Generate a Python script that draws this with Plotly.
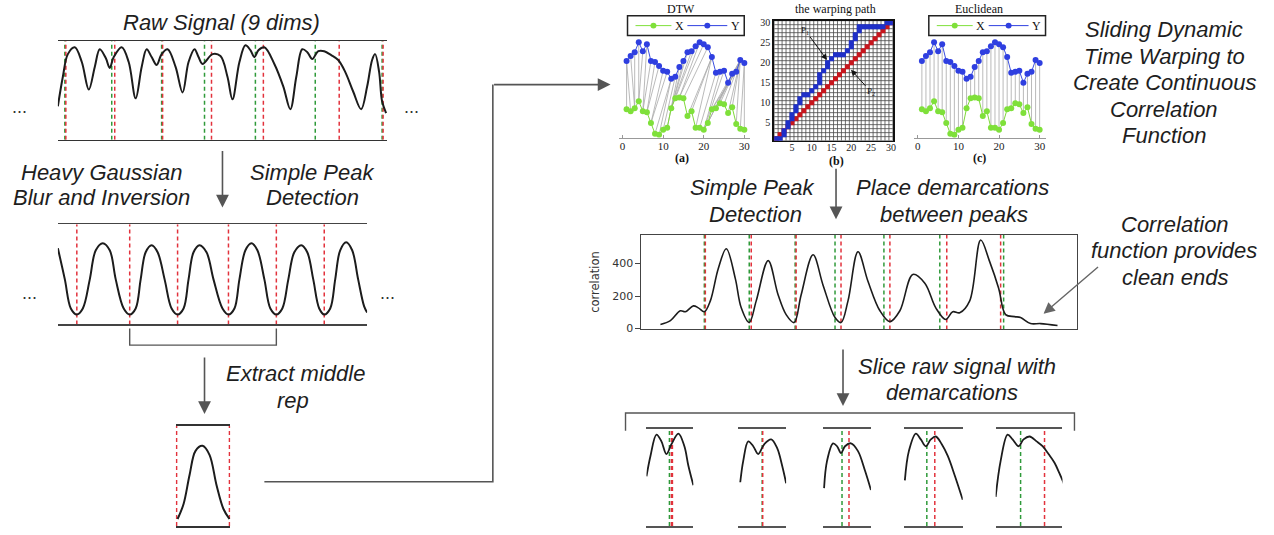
import plotly.graph_objects as go

W, H = 1274, 535


def fx(px):
    return px / W


def fy(py):
    return 1 - py / H


# ---------------- data ----------------
raw_t = [0, 5, 10, 17, 24, 31, 37, 42, 48, 52, 56, 64, 71, 78, 84, 89, 94, 99, 104, 110,
         118, 125, 131, 137, 141, 145, 155, 163, 170, 175, 182, 188, 193, 197, 201, 207, 217, 226, 233, 239,
         245, 250, 255, 261, 267, 274, 281, 288, 296, 304, 310, 315, 318, 322, 325, 329]
raw_amp = [0.34, 0.64, 0.87, 0.94, 0.79, 0.51, 0.74, 0.92, 0.83, 0.73, 0.84, 0.94, 0.79, 0.42, 0.74, 0.92, 0.84, 0.76, 0.87, 0.92,
           0.74, 0.48, 0.79, 0.92, 0.84, 0.77, 0.87, 0.85, 0.64, 0.41, 0.79, 0.96, 0.91, 0.84, 0.91, 0.94, 0.77, 0.54, 0.31, 0.64,
           0.92, 0.89, 0.82, 0.90, 0.90, 0.86, 0.81, 0.69, 0.49, 0.31, 0.54, 0.81, 0.87, 0.69, 0.39, 0.27]
raw_green = [7, 54, 104, 147, 198, 258, 325]
raw_red = [8, 57, 105, 154, 206, 282, 326]

blur_t = [0, 7, 13, 19, 25, 32, 38, 45, 52, 58, 66, 72, 78, 83, 88, 94, 100, 107, 114, 120, 126, 131, 136, 142,
          149, 156, 165, 171, 177, 182, 188, 194, 200, 207, 213, 219, 225, 231, 237, 244, 250, 256, 262, 267,
          273, 278, 283, 289, 295, 301, 307, 310]
blur_amp = [0.76, 0.45, 0.16, 0.10, 0.16, 0.45, 0.74, 0.81, 0.74, 0.45, 0.16, 0.10, 0.16, 0.45, 0.72, 0.79, 0.72, 0.45,
            0.16, 0.10, 0.16, 0.45, 0.72, 0.79, 0.72, 0.45, 0.16, 0.10, 0.16, 0.45, 0.74, 0.81, 0.74, 0.45, 0.16, 0.10,
            0.16, 0.45, 0.72, 0.79, 0.72, 0.45, 0.16, 0.10, 0.16, 0.45, 0.74, 0.82, 0.74, 0.45, 0.18, 0.12]
blur_troughs = [19, 72, 120, 171, 219, 267]

rep_t = [1, 7, 13, 19, 26, 33, 40, 47, 53]
rep_amp = [0.07, 0.22, 0.51, 0.75, 0.80, 0.71, 0.41, 0.17, 0.07]
rep_bounds = [0, 53]

dtw_idx = list(range(1, 31))
dtw_X = [29, 27, 30, 37, 27, 26, 15, 4, 3, 8, 10, 30, 40, 41, 40, 22, 27, 10, 10, 8,
         15, 29, 30, 35, 34, 25, 31, 14, 9, 8]
dtw_Y = [78, 83, 87, 97, 88, 95, 78, 77, 73, 68, 67, 60, 62, 72, 78, 87, 88, 93, 97, 95,
         92, 82, 66, 67, 68, 56, 65, 67, 79, 76]
path_x = [1, 2, 3, 3, 4, 4, 5, 5, 6, 6, 7, 7, 8, 9, 10, 11, 12, 12, 12, 13, 14, 14, 15, 16, 17, 18, 19, 20, 20,
          21, 21, 22, 22, 23, 24, 25, 26, 27, 28, 29, 30]
path_y = [1, 1, 2, 3, 4, 5, 6, 7, 8, 9, 10, 11, 12, 12, 13, 14, 15, 16, 17, 18, 19, 20, 21, 22, 22, 22, 23, 24, 25,
          26, 27, 28, 29, 29, 29, 29, 29, 29, 29, 30, 30]
grid_ticks = [5, 10, 15, 20, 25, 30]
dtw_xticks = [0, 10, 20, 30]

corr_t = [19, 29, 39, 44, 52, 57, 63, 69, 77, 85, 94, 100, 108, 115, 127, 137, 145, 153, 160, 172, 182, 194, 200,
          207, 217, 227, 239, 249, 259, 272, 284, 295, 305, 312, 319, 329, 340, 349, 358, 365, 374, 380, 390, 400, 417]
corr_v = [24, 48, 109, 103, 139, 127, 103, 170, 370, 491, 309, 127, 36, 170, 418, 206, 85, 36, 206, 454, 267, 67, 36,
          170, 473, 291, 109, 42, 109, 333, 279, 127, 55, 103, 97, 170, 545, 412, 248, 85, 73, 67, 30, 30, 18]
corr_green = [63, 108, 154, 194, 243, 299, 363]
corr_red = [64, 110, 155, 200, 249, 306, 360]
corr_ticks = [0, 200, 400]

s1_t = [0, 4, 10, 15, 20, 25, 32, 38, 42, 47]
s1_a = [0.51, 0.72, 0.94, 0.87, 0.74, 0.84, 0.95, 0.82, 0.62, 0.42]
s2_t = [2, 5, 10, 15, 20, 26, 33, 39, 44, 48]
s2_a = [0.45, 0.67, 0.87, 0.82, 0.74, 0.84, 0.89, 0.80, 0.62, 0.44]
s3_t = [1, 4, 10, 14, 18, 22, 28, 35, 42, 48]
s3_a = [0.39, 0.67, 0.85, 0.82, 0.75, 0.82, 0.85, 0.77, 0.57, 0.37]
s4_t = [1, 5, 12, 17, 22, 27, 32, 38, 44, 51, 59]
s4_a = [0.47, 0.77, 0.95, 0.89, 0.82, 0.89, 0.92, 0.84, 0.72, 0.52, 0.27]
s5_t = [0, 5, 12, 17, 23, 28, 34, 41, 47, 53, 59, 64, 69]
s5_a = [0.30, 0.67, 0.94, 0.89, 0.82, 0.89, 0.92, 0.87, 0.82, 0.74, 0.65, 0.54, 0.42]
slice_green = [23, 24, 19, 23, 25]
slice_red = [[25, 26], [24.5], [26], [31], [49]]

# ---------------- styling ----------------
GREEN_D = '#2f9a3a'
RED_D = '#e2323c'
DASH = '4px,3px'
SANS = 'Liberation Sans'
SERIF = 'Liberation Serif'
TXT = '#1e1e1e'

fig = go.Figure()
layout = dict(width=W, height=H, margin=dict(l=0, r=0, t=0, b=0),
              paper_bgcolor='white', plot_bgcolor='white', showlegend=False)
shapes = []
annotations = []


def axis_pair(n, px0, px1, py0, py1, xr, yr, xextra=None, yextra=None):
    sx = '' if n == 1 else str(n)
    xa = dict(domain=[fx(px0), fx(px1)], range=xr, anchor='y' + sx, showgrid=False, zeroline=False,
              showticklabels=False, ticks='', showline=False, fixedrange=True)
    ya = dict(domain=[fy(py1), fy(py0)], range=yr, anchor='x' + sx, showgrid=False, zeroline=False,
              showticklabels=False, ticks='', showline=False, fixedrange=True)
    if xextra:
        xa.update(xextra)
    if yextra:
        ya.update(yextra)
    layout['xaxis' + sx] = xa
    layout['yaxis' + sx] = ya
    return 'x' + sx, 'y' + sx


def vlines(xs, y0, y1):
    X, Y = [], []
    for x in xs:
        X += [x, x, None]
        Y += [y0, y1, None]
    return X, Y


def dashed(xs, y0, y1, color, xa, ya, width=1.5):
    X, Y = vlines(xs, y0, y1)
    fig.add_trace(go.Scatter(x=X, y=Y, xaxis=xa, yaxis=ya, mode='lines',
                             line=dict(color=color, width=width, dash=DASH), hoverinfo='skip'))


def curve(t, a, xa, ya, width=2, color='#1c1c1c'):
    fig.add_trace(go.Scatter(x=t, y=a, xaxis=xa, yaxis=ya, mode='lines',
                             line=dict(color=color, width=width, shape='spline', smoothing=1.0),
                             hoverinfo='skip'))


box_lines = dict(showline=True, mirror=True, linewidth=1.5)

# raw signal
xa, ya = axis_pair(1, 58, 388, 39, 139, [0, 330], [0, 1], dict(box_lines, linecolor='#333'))
dashed(raw_green, 0, 1, GREEN_D, xa, ya)
dashed(raw_red, 0, 1, RED_D, xa, ya)
curve(raw_t, raw_amp, xa, ya)

# blurred / inverted
xa, ya = axis_pair(2, 58, 368, 225, 327, [0, 310], [0, 1], dict(box_lines, linecolor='#444'))
dashed(blur_troughs, 0, 1, RED_D, xa, ya)
curve(blur_t, blur_amp, xa, ya)

# middle rep
xa, ya = axis_pair(3, 176, 231, 430, 532, [-1, 54], [0, 1], dict(box_lines, linecolor='#333'))
dashed(rep_bounds, 0, 1, RED_D, xa, ya)
curve(rep_t, rep_amp, xa, ya)


def dtw_panel(n, px0, pairs_x, pairs_y):
    xa, ya = axis_pair(n, px0, px0 + 132, 13, 137, [-0.98, 31.45], [0, 124],
                       dict(showline=True, linecolor='#999', linewidth=1.2, showticklabels=True,
                            tickvals=dtw_xticks, ticks='inside', ticklen=3, tickcolor='#999',
                            ticklabelstandoff=-2,
                            tickfont=dict(family=SERIF, size=11, color='#222')))
    X, Y = [], []
    for i, j in zip(pairs_x, pairs_y):
        X += [i, j, None]
        Y += [dtw_X[i - 1], dtw_Y[j - 1], None]
    fig.add_trace(go.Scatter(x=X, y=Y, xaxis=xa, yaxis=ya, mode='lines',
                             line=dict(color='#a8a8a8', width=0.8), hoverinfo='skip'))
    fig.add_trace(go.Scatter(x=dtw_idx, y=dtw_X, xaxis=xa, yaxis=ya, mode='lines+markers',
                             line=dict(color='#7fd83a', width=1),
                             marker=dict(color='#7fe03a', size=6), hoverinfo='skip'))
    fig.add_trace(go.Scatter(x=dtw_idx, y=dtw_Y, xaxis=xa, yaxis=ya, mode='lines+markers',
                             line=dict(color='#3a4ee0', width=1),
                             marker=dict(color='#2f3fe0', size=6), hoverinfo='skip'))


dtw_panel(4, 620, path_x, path_y)
dtw_panel(6, 916, dtw_idx, dtw_idx)


def legend_box(px0):
    shapes.append(dict(type='rect', xref='paper', yref='paper', x0=fx(px0), x1=fx(px0 + 117),
                       y0=fy(33), y1=fy(13), line=dict(color='#222', width=1.5), fillcolor='white'))
    for (a, b, col, lbl) in [(8, 44, '#7fe03a', 'X'), (60, 100, '#2f3fe0', 'Y')]:
        shapes.append(dict(type='line', xref='paper', yref='paper', x0=fx(px0 + a), x1=fx(px0 + b),
                           y0=fy(23), y1=fy(23), line=dict(color=col, width=1)))
        c = px0 + (a + b) / 2
        shapes.append(dict(type='circle', xref='paper', yref='paper', x0=fx(c - 3), x1=fx(c + 3),
                           y0=fy(26), y1=fy(20), line=dict(color=col, width=0), fillcolor=col))
        annotations.append(dict(xref='paper', yref='paper', x=fx(px0 + b + 8), y=fy(23), text=lbl,
                                showarrow=False, font=dict(family=SERIF, size=12, color='#111'),
                                xanchor='center', yanchor='middle'))


legend_box(629)
legend_box(931)

# warping path grid
grid_tick_font = dict(family=SERIF, size=10, color='#222')
xa, ya = axis_pair(5, 776, 895, 18, 140, [0.5, 30.5], [0.5, 30.5],
                   dict(showline=True, mirror=True, linecolor='#111', linewidth=1.8, showticklabels=True,
                        tickvals=grid_ticks, ticklabelstandoff=-3, tickfont=grid_tick_font),
                   dict(showline=True, mirror=True, linecolor='#111', linewidth=1.8, showticklabels=True,
                        tickvals=grid_ticks, tickfont=grid_tick_font))
gX, gY = [], []
for k in range(31):
    b = k + 0.5
    gX += [b, b, None, 0.5, 30.5, None]
    gY += [0.5, 30.5, None, b, b, None]
fig.add_trace(go.Scatter(x=gX, y=gY, xaxis=xa, yaxis=ya, mode='lines',
                         line=dict(color='#4a4a4a', width=0.8), hoverinfo='skip'))
fig.add_trace(go.Scatter(x=dtw_idx, y=dtw_idx, xaxis=xa, yaxis=ya, mode='markers',
                         marker=dict(symbol='square', color='#c8161d', size=5), hoverinfo='skip'))
fig.add_trace(go.Scatter(x=path_x, y=path_y, xaxis=xa, yaxis=ya, mode='markers',
                         marker=dict(symbol='square', color='#1f30c8', size=5), hoverinfo='skip'))

# correlation function
xa, ya = axis_pair(7, 643, 1080, 236, 332, [0, 437], [-6, 576],
                   dict(showline=True, mirror=True, linecolor='#444', linewidth=1),
                   dict(showline=True, mirror=True, linecolor='#444', linewidth=1, showticklabels=True,
                        tickvals=corr_ticks, ticks='outside', ticklen=5, tickcolor='#444',
                        tickfont=dict(family='DejaVu Sans', size=11, color='#333')))
dashed(corr_green, -6, 576, GREEN_D, xa, ya)
dashed(corr_red, -6, 576, RED_D, xa, ya)
curve(corr_t, corr_v, xa, ya, width=1.6)

# slices
slices = [(648, 695, s1_t, s1_a), (740, 788, s2_t, s2_a), (825, 873, s3_t, s3_a),
          (906, 965, s4_t, s4_a), (998, 1065, s5_t, s5_a)]
for k, (p0, p1, t, a) in enumerate(slices):
    xa, ya = axis_pair(8 + k, p0, p1, 433, 532, [0, p1 - p0], [0, 1], dict(box_lines, linecolor='#555'))
    dashed([slice_green[k]], 0, 1, GREEN_D, xa, ya)
    dashed(slice_red[k], 0, 1, RED_D, xa, ya)
    curve(t, a, xa, ya, width=1.8)


def label(px, py, text, size=22, family=SANS, color=TXT, italic=True, **kw):
    t = '<i>%s</i>' % text if italic else text
    d = dict(xref='paper', yref='paper', x=fx(px), y=fy(py), text=t, showarrow=False,
             font=dict(family=family, size=size, color=color), xanchor='center', yanchor='middle')
    d.update(kw)
    annotations.append(d)


label(222, 20, 'Raw Signal (9 dims)')
label(102, 172, 'Heavy Gaussian')
label(102, 198, 'Blur and Inversion')
label(313, 172, 'Simple Peak')
label(313, 198, 'Detection')
label(296, 377, 'Extract middle')
label(294, 404, 'rep')
for i, s in enumerate(['Sliding Dynamic', 'Time Warping to', 'Create Continuous', 'Correlation', 'Function']):
    label(1167, 27 + 27 * i, s)
label(754, 188, 'Simple Peak')
label(757, 215, 'Detection')
label(955, 188, 'Place demarcations')
label(956, 215, 'between peaks')
label(1178, 225, 'Correlation')
label(1177, 252, 'function provides')
label(1178, 279, 'clean ends')
label(959, 370, 'Slice raw signal with')
label(954, 396, 'demarcations')

for (x, y) in [(20, 106), (412, 106), (30, 295), (388, 295)]:
    label(x, y, '...', size=18, italic=False, color='#333')

label(683, 6, 'DTW', size=12, family=SERIF, italic=False, color='#111')
label(837, 6, 'the warping path', size=12, family=SERIF, italic=False, color='#111')
label(981, 6, 'Euclidean', size=12, family=SERIF, italic=False, color='#111')
label(684, 158, '<b>(a)</b>', size=12, family=SERIF, italic=False, color='#111')
label(838, 161, '<b>(b)</b>', size=12, family=SERIF, italic=False, color='#111')
label(982, 158, '<b>(c)</b>', size=12, family=SERIF, italic=False, color='#111')
label(597, 284, 'correlation', size=11.5, family='DejaVu Sans', italic=False, color='#333', textangle=-90)


def arrow(tx, ty, hx, hy, color='#555', width=1.6, size=1.6, head=2, text='', font=None):
    d = dict(xref='paper', yref='paper', x=fx(hx), y=fy(hy), ax=tx - hx, ay=ty - hy,
             axref='pixel', ayref='pixel', showarrow=True, arrowhead=head, arrowsize=size,
             arrowwidth=width, arrowcolor=color, text=text)
    if font:
        d['font'] = font
    annotations.append(d)


arrow(223, 150, 223, 208)
arrow(205, 360, 205, 418)
arrow(838, 168, 838, 220)
arrow(845, 352, 845, 410)
arrow(494, 83, 612, 83)
arrow(1102, 268, 1046, 316, color='#666', width=1.4, size=1.6)
arrow(807, 28, 829, 58, color='#111', width=1, size=1.2, text='P<sub>1</sub>',
      font=dict(family=SERIF, size=9, color='#111'))
arrow(873, 90, 853, 68, color='#111', width=1, size=1.2, text='P<sub>2</sub>',
      font=dict(family=SERIF, size=9, color='#111'))


def path(points, color='#555', width=1.6):
    d = 'M ' + ' L '.join('%f,%f' % (fx(x), fy(y)) for x, y in points)
    shapes.append(dict(type='path', xref='paper', yref='paper', path=d,
                       line=dict(color=color, width=width)))


path([(265, 487), (494, 487), (494, 83)])
path([(130, 331), (130, 348), (277, 348), (277, 331)], width=1.4)
path([(627, 435), (627, 417), (1077, 417), (1077, 435)], width=1.4)

layout['shapes'] = shapes
layout['annotations'] = annotations
fig.update_layout(**layout)
# remove the browser's default 8px page margin so the figure sits at the window origin
fig.write_html('out.html', config={'displayModeBar': False, 'staticPlot': True},
               post_script="document.body.style.margin='0px';")
